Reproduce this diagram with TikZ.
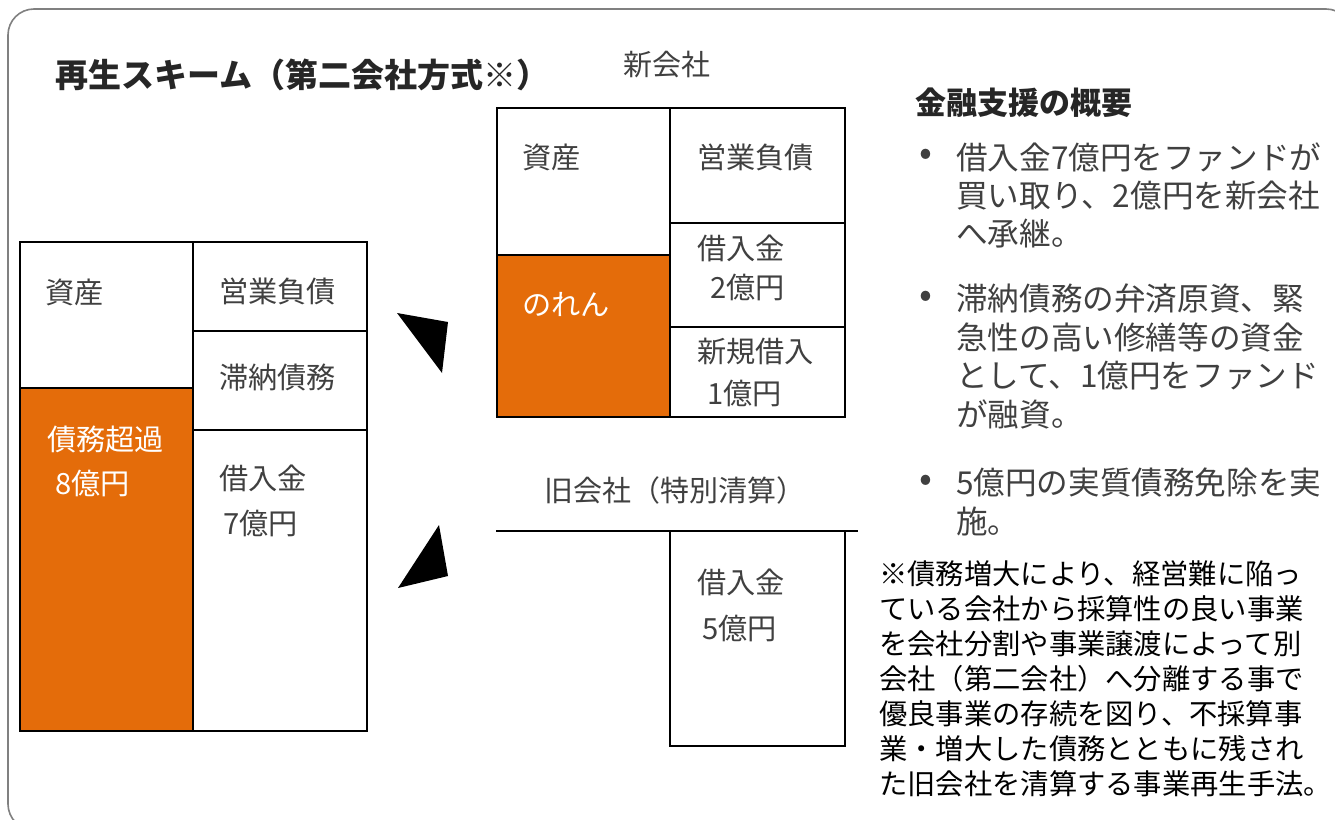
\documentclass[tikz,border=0pt]{standalone}
\usepackage{fontspec}
\setmainfont{Noto Sans CJK JP}
\definecolor{orng}{HTML}{E46C0A}
\definecolor{txtgray}{HTML}{404040}
\definecolor{bordergray}{HTML}{808080}
\tikzset{
  lbl/.style={anchor=west, inner sep=0pt, text=txtgray, font=\fontsize{29.2}{34}\selectfont},
  wlbl/.style={lbl, text=white},
  captext/.style={anchor=center, inner sep=0pt, text=txtgray, font=\fontsize{29}{34}\selectfont},
  btext/.style={anchor=west, inner sep=0pt, text=txtgray, font=\fontsize{31.6}{38}\selectfont},
  bdot/.style={anchor=center, inner sep=0pt, text=txtgray, font=\fontsize{38}{38}\selectfont},
  ftext/.style={anchor=west, inner sep=0pt, text=black, font=\fontsize{28.3}{35}\selectfont},
  heading/.style={anchor=west, inner sep=0pt, text=black!85, font=\bfseries\fontsize{31}{36}\selectfont},
  cell/.style={draw=black, line width=1.2pt},
  ocell/.style={cell, fill=orng},
  tri/.style={fill=black}
}
\begin{document}
\begin{tikzpicture}[x=1pt,y=-1pt]
\useasboundingbox (0,0) rectangle (1335,819);
\clip (0,0) rectangle (1335,819);
\draw[bordergray, line width=1.6pt, rounded corners=26pt] (8,9) rectangle (1352,830);

% title
\node[heading, font=\bfseries\fontsize{33}{38}\selectfont] (title) at (55,75) {再生スキーム（第二会社方式※）};

% left balance sheet (before)
\draw[cell] (20,242) rectangle (193,388);
\draw[ocell] (20,388) rectangle (193,731);
\draw[cell] (193,242) rectangle (367,331);
\draw[cell] (193,331) rectangle (367,430);
\draw[cell] (193,430) rectangle (367,731);
\node[lbl] (l1) at (45,292) {資産};
\node[lbl] (l2) at (219,291) {営業負債};
\node[lbl] (l3) at (219,378) {滞納債務};
\node[wlbl] (l4) at (47,439) {債務超過};
\node[wlbl] (l5) at (55,483) {8億円};
\node[lbl] (l6) at (219,478) {借入金};
\node[lbl] (l7) at (223,523) {7億円};

% new company
\node[captext] (newc) at (667,65) {新会社};
\draw[cell] (497,108) rectangle (670,255);
\draw[ocell] (497,255) rectangle (670,417);
\draw[cell] (670,108) rectangle (845,223);
\draw[cell] (670,223) rectangle (845,327);
\draw[cell] (670,327) rectangle (845,417);
\node[lbl] (n1) at (522,157) {資産};
\node[lbl] (n2) at (697,157) {営業負債};
\node[lbl] (n3) at (697,248) {借入金};
\node[lbl] (n4) at (710,287) {2億円};
\node[lbl] (n5) at (697,352) {新規借入};
\node[lbl] (n6) at (707,393) {1億円};
\node[wlbl] (n7) at (522,304) {のれん};

% old company
\node[captext] (oldc) at (675,490) {旧会社（特別清算）};
\coordinate (hl) at (496,531);
\coordinate (hr) at (858,531);
\draw[line width=1.2pt] (hl) -- (hr);
\draw[cell] (670,531) rectangle (845,746);
\node[lbl] (o1) at (697,582) {借入金};
\node[lbl] (o2) at (702,628) {5億円};

% arrows (triangles)
\coordinate (t1a) at (397,313);
\coordinate (t1b) at (448,322);
\coordinate (t1c) at (442,373);
\fill[tri] (t1a) -- (t1b) -- (t1c) -- cycle;
\coordinate (t2a) at (439,525);
\coordinate (t2b) at (448,576);
\coordinate (t2c) at (398,588);
\fill[tri] (t2a) -- (t2b) -- (t2c) -- cycle;

% financial support summary
\node[heading] (sum) at (915,103) {金融支援の概要};
\node[bdot] (d1) at (926,157) {•};
\node[btext] (b11) at (956,157) {借入金7億円をファンドが};
\node[btext] (b12) at (956,195.5) {買い取り、2億円を新会社};
\node[btext] (b13) at (956,234) {へ承継。};
\node[bdot] (d2) at (926,299) {•};
\node[btext] (b21) at (956,299) {滞納債務の弁済原資、緊};
\node[btext] (b22) at (956,337.5) {急性の高い修繕等の資金};
\node[btext] (b23) at (956,376) {として、1億円をファンド};
\node[btext] (b24) at (956,414.5) {が融資。};
\node[bdot] (d3) at (926,483) {•};
\node[btext] (b31) at (956,483) {5億円の実質債務免除を実};
\node[btext] (b32) at (956,521.5) {施。};

% footnote
\node[ftext] (f1) at (879,574) {※債務増大により、経営難に陥っ};
\node[ftext] (f2) at (879,609) {ている会社から採算性の良い事業};
\node[ftext] (f3) at (879,644) {を会社分割や事業譲渡によって別};
\node[ftext] (f4) at (879,679) {会社（第二会社）へ分離する事で};
\node[ftext] (f5) at (879,714) {優良事業の存続を図り、不採算事};
\node[ftext] (f6) at (879,749) {業・増大した債務とともに残され};
\node[ftext] (f7) at (879,784) {た旧会社を清算する事業再生手法。};
\end{tikzpicture}
\end{document}
